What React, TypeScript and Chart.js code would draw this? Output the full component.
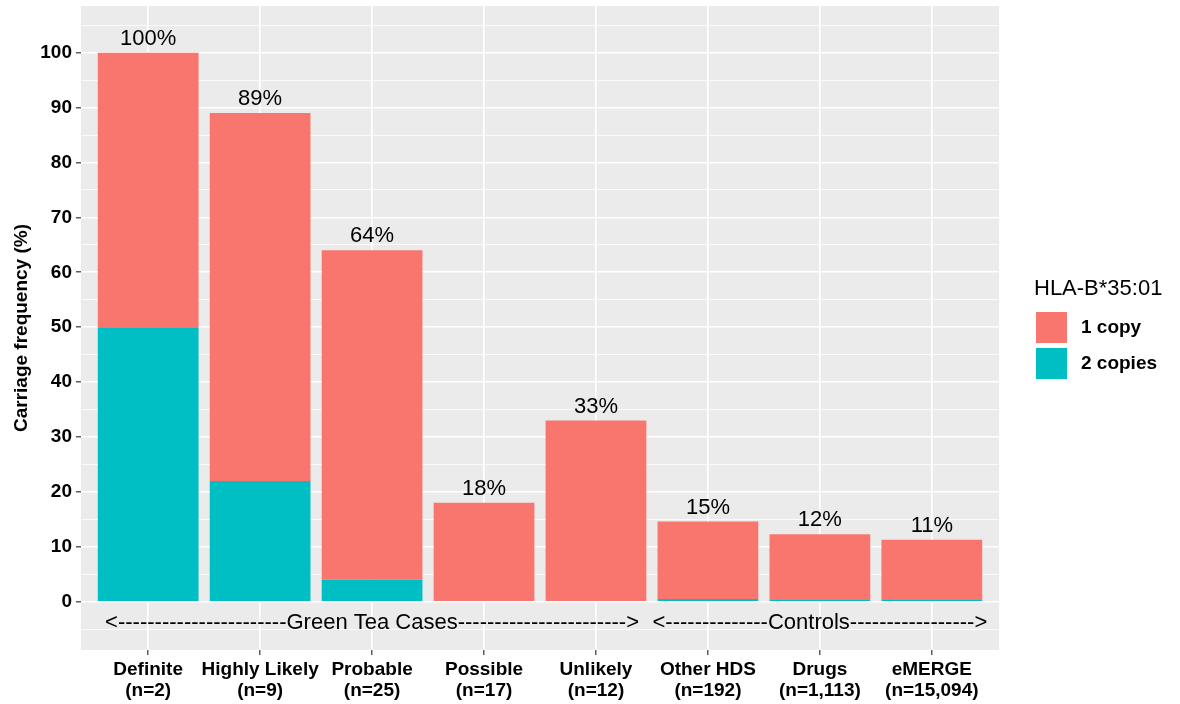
import React, { useEffect, useRef } from "react";
import { Chart, registerables } from "chart.js";

Chart.register(...registerables);

const categories = ["Definite", "Highly Likely", "Probable", "Possible", "Unlikely", "Other HDS", "Drugs", "eMERGE"];
const sampleSizes = ["(n=2)", "(n=9)", "(n=25)", "(n=17)", "(n=12)", "(n=192)", "(n=1,113)", "(n=15,094)"];
const twoCopies = [50, 22, 4, 0, 0, 0.5, 0.3, 0.3];
const oneCopy = [50, 67, 60, 18, 33, 14.1, 12.0, 11.0];
const pctLabels = ["100%", "89%", "64%", "18%", "33%", "15%", "12%", "11%"];
const yMajorTicks = [0, 10, 20, 30, 40, 50, 60, 70, 80, 90, 100];
const yMinorTicks = [-5, 5, 15, 25, 35, 45, 55, 65, 75, 85, 95, 105];
const groupTexts = [
  "<-----------------------Green Tea Cases----------------------->",
  "<--------------Controls----------------->",
];
const groupCenters = [2, 6];
const groupY = -3.6;
const legendTitle = "HLA-B*35:01";
const seriesNames = ["1 copy", "2 copies"];

const FONT = '"Liberation Sans", Arial, sans-serif';
const SALMON = "#F8766D";
const TEAL = "#00BFC4";

export default function App() {
  const ref = useRef<HTMLCanvasElement>(null);

  useEffect(() => {
    Chart.defaults.font.family = FONT;
    const bgPlugin = {
      id: "bg",
      beforeDraw(chart: any) {
        const { ctx, chartArea: a } = chart;
        ctx.save();
        ctx.fillStyle = "#fff";
        ctx.fillRect(0, 0, chart.width, chart.height);
        ctx.fillStyle = "#EBEBEB";
        ctx.fillRect(a.left, a.top, a.right - a.left, a.bottom - a.top);
        ctx.restore();
      },
    };
    const textPlugin = {
      id: "texts",
      afterDatasetsDraw(chart: any) {
        const { ctx, scales } = chart;
        const xs = scales.x;
        const ys = scales.y;
        ctx.save();
        ctx.fillStyle = "#000";
        ctx.textAlign = "center";
        ctx.textBaseline = "alphabetic";
        ctx.font = `22px ${FONT}`;
        categories.forEach((_, i) => {
          const total = oneCopy[i] + twoCopies[i];
          ctx.fillText(pctLabels[i], xs.getPixelForValue(i), ys.getPixelForValue(total) - 8);
        });
        ctx.font = `22px ${FONT}`;
        groupTexts.forEach((t, k) => {
          ctx.fillText(t, xs.getPixelForValue(groupCenters[k]), ys.getPixelForValue(groupY) + 7.7);
        });
        ctx.restore();
      },
      afterDraw(chart: any) {
        const { ctx } = chart;
        ctx.save();
        ctx.fillStyle = "#000";
        ctx.textAlign = "left";
        ctx.textBaseline = "middle";
        ctx.font = `22px ${FONT}`;
        ctx.fillText(legendTitle, 1034, 289);
        const colors = [SALMON, TEAL];
        seriesNames.forEach((name, k) => {
          const y = 311 + k * 36;
          ctx.fillStyle = colors[k];
          ctx.fillRect(1035, y, 33, 33);
          ctx.strokeStyle = "#fff";
          ctx.lineWidth = 1;
          ctx.strokeRect(1035.5, y + 0.5, 32, 32);
          ctx.fillStyle = "#000";
          ctx.font = `bold 19px ${FONT}`;
          ctx.fillText(name, 1081, y + 17);
        });
        ctx.restore();
      },
    };

    const chart = new Chart(ref.current!, {
      type: "bar",
      data: {
        datasets: [
          {
            label: seriesNames[1],
            data: categories.map((_, i) => ({ x: i, y: twoCopies[i] })),
            backgroundColor: TEAL,
            borderWidth: 0,
            barPercentage: 0.9,
            categoryPercentage: 1,
          },
          {
            label: seriesNames[0],
            data: categories.map((_, i) => ({ x: i, y: oneCopy[i] })),
            backgroundColor: SALMON,
            borderWidth: 0,
            barPercentage: 0.9,
            categoryPercentage: 1,
          },
        ],
      },
      options: {
        animation: false,
        responsive: false,
        maintainAspectRatio: false,
        layout: { padding: { left: 0, right: 181, top: 6, bottom: 0 } },
        plugins: { legend: { display: false }, tooltip: { enabled: false } },
        scales: {
          x: {
            type: "linear",
            stacked: true,
            min: -0.6,
            max: 7.6,
            offset: false,
            bounds: "data",
            afterBuildTicks: (s: any) => {
              s.ticks = categories.map((_, i) => ({ value: i }));
            },
            afterFit: (s: any) => {
              s.height = 54;
              s.paddingLeft = 0;
              s.paddingRight = 0;
            },
            grid: {
              offset: false,
              color: "#fff",
              lineWidth: 1.6,
              tickColor: "#333",
              tickLength: 5,
              tickWidth: 1.2,
            },
            border: { display: false },
            ticks: {
              autoSkip: false,
              maxRotation: 0,
              minRotation: 0,
              padding: 5,
              color: "#000",
              font: { size: 19, weight: "bold", lineHeight: 1.07 },
              callback: (v: any) => [categories[v], sampleSizes[v]],
            },
          },
          y: {
            type: "linear",
            stacked: true,
            min: -8.8,
            max: 108.5,
            bounds: "data",
            afterBuildTicks: (s: any) => {
              s.ticks = [...yMinorTicks, ...yMajorTicks].sort((a, b) => a - b).map((v) => ({ value: v }));
            },
            afterFit: (s: any) => {
              s.width = 81;
              s.paddingTop = 0;
              s.paddingBottom = 0;
            },
            grid: {
              color: "#fff",
              lineWidth: (c: any) => (c.tick && yMajorTicks.includes(c.tick.value) ? 1.6 : 0.8),
              tickColor: (c: any) => (c.tick && yMajorTicks.includes(c.tick.value) ? "#333" : "rgba(0,0,0,0)"),
              tickLength: 5,
              tickWidth: 1.2,
            },
            border: { display: false },
            ticks: {
              autoSkip: false,
              padding: 4,
              color: "#000",
              font: { size: 19, weight: "bold" },
              callback: (v: any) => (yMajorTicks.includes(v) ? String(v) : ""),
            },
            title: {
              display: true,
              text: "Carriage frequency (%)",
              color: "#000",
              font: { size: 19, weight: "bold" },
              padding: { top: 10, bottom: 0 },
            },
          },
        },
      },
      plugins: [bgPlugin, textPlugin],
    } as any);
    return () => chart.destroy();
  }, []);

  return (
    <div style={{ position: "fixed", left: 0, top: 0, width: 1180, height: 704, background: "#fff" }}>
      <canvas ref={ref} width={1180} height={704} style={{ display: "block", width: 1180, height: 704 }} />
    </div>
  );
}
